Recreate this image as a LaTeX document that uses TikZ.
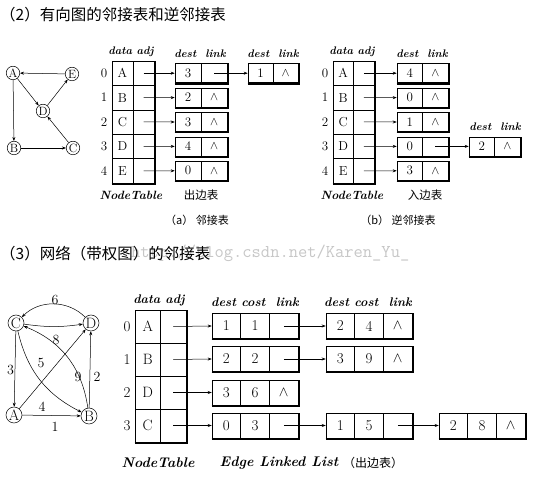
\documentclass[tikz,border=0pt]{standalone}
\usepackage{fontspec}
\newfontfamily\cjk{Noto Sans CJK SC}
\usetikzlibrary{arrows.meta}
\tikzset{
  arr/.style={-{Stealth[length=4pt,width=3pt]}, line width=0.5pt},
  tcell/.style={draw, line width=0.55pt, inner sep=0pt, fill=white},
  lcell/.style={draw, line width=0.55pt, inner sep=0pt, fill=white},
  shadowline/.style={line width=1.6pt},
  idx/.style={inner sep=0pt},
  hdr/.style={inner sep=0pt, font=\fontsize{11}{11}\selectfont\bfseries\itshape},
  hdrc/.style={inner sep=0pt, font=\fontsize{12.5}{12.5}\selectfont\bfseries\itshape},
  gnode/.style={draw, circle, inner sep=0pt, line width=0.5pt},
  wlab/.style={inner sep=0pt, font=\fontsize{14}{14}\selectfont},
  captx/.style={inner sep=0pt, font=\cjk\fontsize{11.5}{11.5}\selectfont},
  ttl/.style={inner sep=0pt, anchor=west, font=\cjk\fontsize{15.5}{15.5}\selectfont},
}
% #1 prefix, #2 left x, #3 top y, #4 cell w, #5 row h, #6 font size, #7 letters
\newcommand{\ntable}[7]{%
  \foreach \l [count=\k from 0] in {#7} {
    \node[tcell, minimum width=#4pt, minimum height=#5pt, font=\fontsize{#6}{#6}\selectfont] (#1d\k) at ({#2+0.5*#4}, {#3+(\k+0.5)*#5}) {\l};
    \node[tcell, minimum width=#4pt, minimum height=#5pt] (#1a\k) at ({#2+1.5*#4}, {#3+(\k+0.5)*#5}) {};
    \node[idx, font=\fontsize{#6}{#6}\selectfont] (#1i\k) at ({#2-8}, {#3+(\k+0.5)*#5}) {\k};
  }
}
% #1 name, #2 left x, #3 centre y, #4 cell w, #5 h, #6 N, #7 contents, #8 font size
\newcommand{\lnode}[8]{%
  \foreach \c [count=\k] in {#7} {
    \node[lcell, minimum width=#4pt, minimum height=#5pt, font=\fontsize{#8}{#8}\selectfont] (#1-\k) at ({#2+(\k-0.5)*#4}, #3) {\c};
  }
  \draw[shadowline] ([yshift=-0.8pt]#1-1.south west) -- ([xshift=0.8pt,yshift=-0.8pt]#1-#6.south east) -- ([xshift=0.8pt]#1-#6.north east);
}
\begin{document}
\begin{tikzpicture}[x=1pt,y=-1pt]
\fill[white] (0,0) rectangle (542,478);
\useasboundingbox (0,0) rectangle (542,478);

% watermark
\node[inner sep=0pt, text=black!22, font=\ttfamily\fontsize{18}{18}\selectfont, anchor=west] (wm) at (131,253) {http://blog.csdn.net/Karen\_Yu\_};

% titles
\node[ttl] (t1) at (0,15) {（2）有向图的邻接表和逆邻接表};
\node[ttl] (t2) at (0,254) {（3）网络（带权图）的邻接表};

% ---------- graph 1 ----------
\begin{scope}[every node/.append style={font=\fontsize{12}{12}\selectfont}]
\node[gnode, minimum size=13.5pt] (gA) at (13,73) {A};
\node[gnode, minimum size=13.5pt] (gE) at (72,74) {E};
\node[gnode, minimum size=13.5pt] (gD) at (43,111) {D};
\node[gnode, minimum size=13.5pt] (gB) at (14,148) {B};
\node[gnode, minimum size=13.5pt] (gC) at (73,148) {C};
\end{scope}
\draw[arr] (gE) -- (gA);
\draw[arr] (gA) -- (gD);
\draw[arr] (gD) -- (gE);
\draw[arr] (gA) -- (gB);
\draw[arr] (gB) -- (gC);
\draw[arr] (gC) -- (gD);

% ---------- table (a) ----------
\node[hdr] (ha0) at (131,52) {data adj};
\node[hdr] (ha1) at (200,54) {dest\ \ link};
\node[hdr] (ha2) at (273,54) {dest\ \ link};
\ntable{a}{112}{61}{21}{24.4}{13}{A,B,C,D,E}
\draw[shadowline] ([yshift=-0.8pt]ad4.south west) -- ([xshift=0.8pt,yshift=-0.8pt]aa4.south east) -- ([xshift=0.8pt]aa0.north east);
\lnode{la0}{175}{73.2}{26}{19}{2}{3,{}}{13}
\lnode{la1}{175}{97.6}{26}{19}{2}{2,$\wedge$}{13}
\lnode{la2}{175}{122}{26}{19}{2}{3,$\wedge$}{13}
\lnode{la3}{175}{146.4}{26}{19}{2}{4,$\wedge$}{13}
\lnode{la4}{175}{170.8}{26}{19}{2}{0,$\wedge$}{13}
\lnode{lb0}{248}{73.2}{25}{19}{2}{1,$\wedge$}{13}
\foreach \i in {0,...,4} { \draw[arr] (aa\i.center) -- (la\i-1.west); }
\draw[arr] (la0-2.center) -- (lb0-1.west);
\node[hdr, font=\fontsize{12}{12}\selectfont\bfseries\itshape] (nta) at (131,195) {NodeTable};
\node[captx] (oa) at (201,195) {出边表};
\node[captx, font=\cjk\fontsize{11}{11}\selectfont] (capa) at (197,220) {（a） 邻接表};

% ---------- table (b) ----------
\node[hdr] (hb0) at (352,52) {data adj};
\node[hdr] (hb1) at (422,54) {dest\ \ link};
\node[hdr] (hb2) at (495,127) {dest\ \ link};
\ntable{b}{333}{61}{20.5}{24.4}{13}{A,B,C,D,E}
\draw[shadowline] ([yshift=-0.8pt]bd4.south west) -- ([xshift=0.8pt,yshift=-0.8pt]ba4.south east) -- ([xshift=0.8pt]ba0.north east);
\lnode{mb0}{397}{73.2}{25.5}{19}{2}{4,$\wedge$}{13}
\lnode{mb1}{397}{97.6}{25.5}{19}{2}{0,$\wedge$}{13}
\lnode{mb2}{397}{122}{25.5}{19}{2}{1,$\wedge$}{13}
\lnode{mb3}{397}{146.4}{25.5}{19}{2}{0,{}}{13}
\lnode{mb4}{397}{170.8}{25.5}{19}{2}{3,$\wedge$}{13}
\lnode{nb3}{469}{146.4}{25.5}{19}{2}{2,$\wedge$}{13}
\foreach \i in {0,...,4} { \draw[arr] (ba\i.center) -- (mb\i-1.west); }
\draw[arr] (mb3-2.center) -- (nb3-1.west);
\node[hdr, font=\fontsize{12}{12}\selectfont\bfseries\itshape] (ntb) at (352,195) {NodeTable};
\node[captx] (ib) at (425,195) {入边表};
\node[captx, font=\cjk\fontsize{11}{11}\selectfont] (capb) at (398,220) {（b） 逆邻接表};

% ---------- graph 2 ----------
\begin{scope}[every node/.append style={font=\fontsize{15}{15}\selectfont}]
\node[gnode, minimum size=16pt] (hC) at (16,323) {C};
\node[gnode, minimum size=16pt] (hD) at (91,323) {D};
\node[gnode, minimum size=16pt] (hA) at (14,415) {A};
\node[gnode, minimum size=16pt] (hB) at (89,416) {B};
\end{scope}
\draw[arr] (hD) to[bend right=45] (hC);
\draw[arr] (hC) to[bend right=8] (hD);
\draw[arr] (hC) -- (hA);
\draw[arr] (hC) to[bend right=25] (hB);
\draw[arr] (hB) to[bend right=30] (hC);
\draw[arr] (hA) -- (hD);
\draw[arr] (hB) -- (hD);
\draw[arr] (hA) -- (hB);
\node[wlab] (w6) at (55,300) {6};
\node[wlab] (w8) at (56,340) {8};
\node[wlab] (w3) at (10.5,370) {3};
\node[wlab] (w5) at (41,363) {5};
\node[wlab] (w4) at (42,407) {4};
\node[wlab] (w9) at (78,377) {9};
\node[wlab] (w2) at (97,377) {2};
\node[wlab] (w1) at (55,427) {1};

% ---------- table (c) ----------
\node[hdrc] (hc0) at (159,300) {data adj};
\node[hdrc] (hc1) at (255,302) {dest cost\ \ link};
\node[hdrc] (hc2) at (368,302) {dest cost\ \ link};
\ntable{c}{135}{310}{25.5}{33}{15}{A,B,D,C}
\draw[shadowline] ([yshift=-0.8pt]cd3.south west) -- ([xshift=0.8pt,yshift=-0.8pt]ca3.south east) -- ([xshift=0.8pt]ca0.north east);
\lnode{pc0}{212}{326}{28.7}{25}{3}{1,1,{}}{15}
\lnode{pc1}{212}{359}{28.7}{25}{3}{2,2,{}}{15}
\lnode{pc2}{212}{392.5}{28.7}{25}{3}{3,6,$\wedge$}{15}
\lnode{pc3}{212}{425.5}{28.7}{25}{3}{0,3,{}}{15}
\lnode{qc0}{326}{326}{28.7}{25}{3}{2,4,$\wedge$}{15}
\lnode{qc1}{326}{359}{28.7}{25}{3}{3,9,$\wedge$}{15}
\lnode{qc3}{326}{425.5}{28.7}{25}{3}{1,5,{}}{15}
\lnode{rc3}{439}{425.5}{28.7}{25}{3}{2,8,$\wedge$}{15}
\foreach \i in {0,...,3} { \draw[arr] (ca\i.center) -- (pc\i-1.west); }
\draw[arr] (pc0-3.center) -- (qc0-1.west);
\draw[arr] (pc1-3.center) -- (qc1-1.west);
\draw[arr] (pc3-3.center) -- (qc3-1.west);
\draw[arr] (qc3-3.center) -- (rc3-1.west);
\node[hdrc, font=\fontsize{14}{14}\selectfont\bfseries\itshape] (ntc) at (158,463) {NodeTable};
\node[hdrc, font=\fontsize{14}{14}\selectfont\bfseries\itshape] (elc) at (279,463) {Edge Linked List};
\node[captx, font=\cjk\fontsize{12}{12}\selectfont] (oc) at (373,463) {（出边表）};
\end{tikzpicture}
\end{document}
